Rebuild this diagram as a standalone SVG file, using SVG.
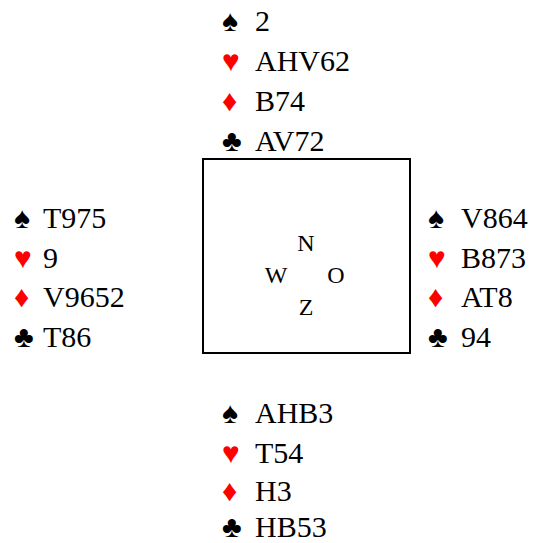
<svg xmlns="http://www.w3.org/2000/svg" width="534" height="543" viewBox="0 0 534 543">
<style>
.b{fill:#000}
.r{fill:#ff0000}
.c{text-anchor:middle}
</style>
<rect width="534" height="543" fill="#fff"/>
<g font-family="Liberation Serif, DejaVu Serif, serif" font-size="30">
<g id="north">
<text class="b" x="222" y="31">♠</text><text x="255" y="31">2</text>
<text class="r" x="222" y="71">♥</text><text x="255" y="71">AHV62</text>
<text class="r" x="222" y="111">♦</text><text x="255" y="111">B74</text>
<text class="b" x="222" y="151">♣</text><text x="255" y="151">AV72</text>
</g>
<g id="west">
<text class="b" x="14" y="228">♠</text><text x="43" y="228">T975</text>
<text class="r" x="14" y="268">♥</text><text x="43" y="268">9</text>
<text class="r" x="14" y="307">♦</text><text x="43" y="307">V9652</text>
<text class="b" x="14" y="347">♣</text><text x="43" y="347">T86</text>
</g>
<g id="east">
<text class="b" x="428" y="228">♠</text><text x="461" y="228">V864</text>
<text class="r" x="428" y="268">♥</text><text x="461" y="268">B873</text>
<text class="r" x="428" y="307">♦</text><text x="461" y="307">AT8</text>
<text class="b" x="428" y="347">♣</text><text x="461" y="347">94</text>
</g>
<g id="south">
<text class="b" x="222" y="423">♠</text><text x="255" y="423">AHB3</text>
<text class="r" x="222" y="463">♥</text><text x="255" y="463">T54</text>
<text class="r" x="222" y="501">♦</text><text x="255" y="501">H3</text>
<text class="b" x="222" y="537">♣</text><text x="255" y="537">HB53</text>
</g>
<g id="table" font-size="24">
<rect x="203" y="159" width="207" height="194" fill="none" stroke="#000" stroke-width="2"/>
<text class="c" x="306" y="251">N</text>
<text class="c" x="276" y="283">W</text>
<text class="c" x="336" y="283">O</text>
<text class="c" x="306" y="315">Z</text>
</g>
</g>
</svg>
